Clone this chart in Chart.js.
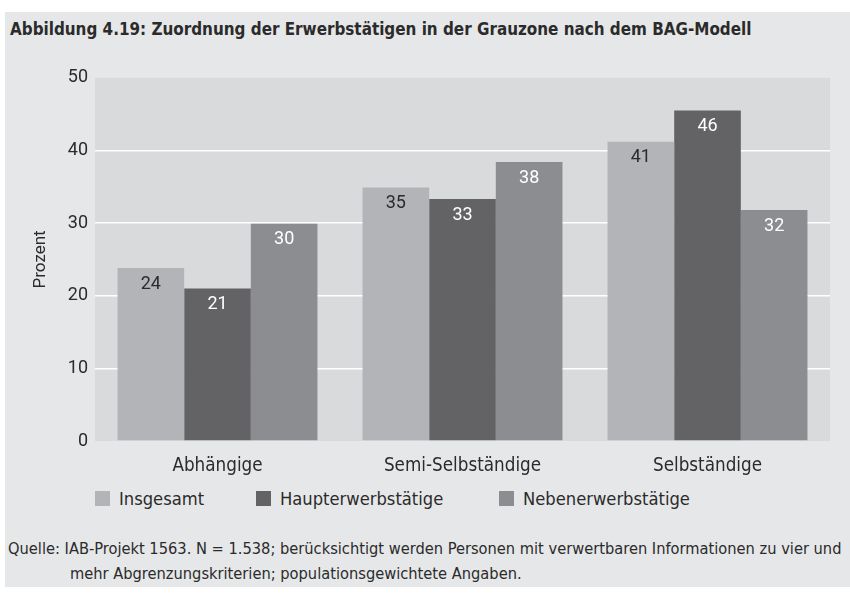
<!DOCTYPE html>
<html>
<head>
<meta charset="utf-8">
<script src="https://cdn.jsdelivr.net/npm/chart.js@4.4.1/dist/chart.umd.min.js"></script>
<style>
  body { margin: 0; background: #fff; width: 850px; height: 593px; overflow: hidden; }
  #frame { position: absolute; left: 5px; top: 12px; width: 845px; height: 575px; background: #e6e7e8; }
  #title { position: absolute; left: 5px; top: 7px; font: bold 16.9px 'DejaVu Sans Condensed', sans-serif; color: #2b2b2b; white-space: nowrap; }
  #wrap { position: absolute; left: 0; top: 48px; width: 845px; height: 420px; }
  #legend { position: absolute; left: 0; top: 475px; width: 845px; height: 22px; }
  .item { position: absolute; top: 0; height: 22px; display: flex; align-items: center; font: 18.2px 'DejaVu Sans Condensed', sans-serif; color: #2b2b2b; white-space: nowrap; }
  .box { width: 15px; height: 15px; margin-right: 9px; }
  #source { position: absolute; left: 3px; top: 524px; font: 16.3px 'DejaVu Sans Condensed', sans-serif; color: #2b2b2b; line-height: 25px; white-space: nowrap; }
  #source .indent { padding-left: 62px; }
</style>
</head>
<body>
<div id="frame">
  <div id="title">Abbildung 4.19: Zuordnung der Erwerbstätigen in der Grauzone nach dem BAG-Modell</div>
  <div id="wrap"><canvas id="chart"></canvas></div>
  <div id="legend"></div>
  <div id="source">Quelle: IAB-Projekt 1563. N = 1.538; berücksichtigt werden Personen mit verwertbaren Informationen zu vier und<br><span class="indent">mehr Abgrenzungskriterien; populationsgewichtete Angaben.</span></div>
</div>
<script>
const categories = ["Abhängige", "Semi-Selbständige", "Selbständige"];
const seriesNames = ["Insgesamt", "Haupterwerbstätige", "Nebenerwerbstätige"];
const insgesamt = [23.8, 34.9, 41.2];
const haupterwerb = [21.0, 33.3, 45.5];
const nebenerwerb = [29.9, 38.4, 31.8];

const colors = ["#b3b4b7", "#636365", "#8c8d90"];
const labelColors = ["#2b2b2b", "#ffffff", "#ffffff"];
const legendX = [90, 251, 494];

// legend as html, same colours as the bars
const legend = document.getElementById("legend");
seriesNames.forEach((name, i) => {
  const it = document.createElement("div");
  it.className = "item";
  it.style.left = legendX[i] + "px";
  it.innerHTML = `<div class="box" style="background:${colors[i]}"></div>${name}`;
  legend.appendChild(it);
});

const plotBg = {
  id: "plotBg",
  beforeDraw(chart) {
    const { ctx, chartArea: a } = chart;
    ctx.save();
    ctx.fillStyle = "#d9dadc";
    ctx.fillRect(a.left, a.top, a.right - a.left, a.bottom - a.top);
    ctx.restore();
  }
};

// value labels inside the top of each bar
const barLabels = {
  id: "barLabels",
  afterDatasetsDraw(chart) {
    const ctx = chart.ctx;
    ctx.save();
    ctx.font = "18px Roboto, sans-serif";
    ctx.textAlign = "center";
    ctx.textBaseline = "middle";
    chart.data.datasets.forEach((ds, i) => {
      chart.getDatasetMeta(i).data.forEach((bar, j) => {
        ctx.fillStyle = labelColors[i];
        ctx.fillText(Math.round(ds.data[j]), bar.x, bar.y + 16);
      });
    });
    ctx.restore();
  }
};

new Chart(document.getElementById("chart"), {
  type: "bar",
  data: {
    labels: categories,
    datasets: [insgesamt, haupterwerb, nebenerwerb].map((d, i) => ({
      label: seriesNames[i],
      data: d,
      backgroundColor: colors[i],
      borderWidth: 0,
      barPercentage: 1.0,
      categoryPercentage: 0.816
    }))
  },
  options: {
    responsive: true,
    maintainAspectRatio: false,
    animation: false,
    layout: { padding: { top: 16, right: 20, left: 0, bottom: 0 } },
    plugins: {
      legend: { display: false },
      tooltip: { enabled: false }
    },
    scales: {
      x: {
        grid: { display: false },
        border: { display: false },
        ticks: { font: { family: "'DejaVu Sans Condensed', sans-serif", size: 18.7 }, color: "#2b2b2b", padding: 6 },
        afterFit: s => { s.height = 39; }
      },
      y: {
        min: 0,
        max: 50,
        ticks: { stepSize: 10, font: { family: "Roboto, sans-serif", size: 18 }, color: "#2b2b2b", padding: 7 },
        grid: {
          drawTicks: false,
          lineWidth: 1.5,
          color: c => (c.tick && c.tick.value > 0 && c.tick.value < 50) ? "#ffffff" : "rgba(0,0,0,0)"
        },
        border: { display: false },
        title: { display: true, text: "Prozent", font: { family: "Roboto, sans-serif", size: 17 }, color: "#2b2b2b", padding: { top: 26 } },
        afterFit: s => { s.width = 90; }
      }
    }
  },
  plugins: [plotBg, barLabels]
});
</script>
</body>
</html>
